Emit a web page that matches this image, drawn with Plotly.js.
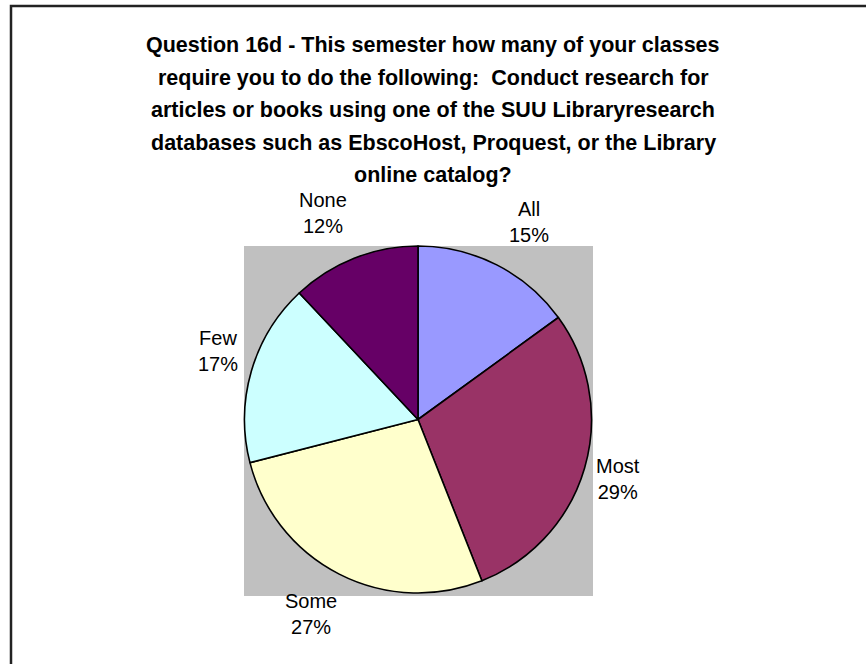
<!DOCTYPE html>
<html>
<head>
<meta charset="utf-8">
<script src="https://cdn.plot.ly/plotly-3.0.1.min.js"></script>
<style>
  html, body { margin: 0; padding: 0; background: #ffffff; }
  #chart { width: 866px; height: 664px; }
</style>
</head>
<body>
<div id="chart"></div>
<script>
// ---- data ----
const categories = ["All", "Most", "Some", "Few", "None"];
const values = [15, 29, 27, 17, 12];
const sliceColors = ["#9999FF", "#993366", "#FFFFCC", "#CCFFFF", "#660066"];
const titleLines = [
  "Question 16d - This semester how many of your classes",
  "require you to do the following:  Conduct research for",
  "articles or books using one of the SUU Libraryresearch",
  "databases such as EbscoHost, Proquest, or the Library",
  "online catalog?"
];

// ---- layout geometry (pixels) ----
const W = 866, H = 664;
const pie = { x0: 244, x1: 592, y0: 246, y1: 593 };
const cx = (pie.x0 + pie.x1) / 2, cy = (pie.y0 + pie.y1) / 2;
const labelDist = [227, 209, 222, 211, 227];
const labelAngleNudge = [2.3, 0.2, 1.9, 2.7, -3.2];

const px = x => x / W;
const py = y => 1 - y / H;

const total = values.reduce((a, b) => a + b, 0);
const annotations = [];
let cum = 0;
values.forEach((v, i) => {
  const mid = (cum + v / 2) / total * 360 + labelAngleNudge[i];
  cum += v;
  const a = mid * Math.PI / 180;
  const lx = cx + labelDist[i] * Math.sin(a);
  const ly = cy - labelDist[i] * Math.cos(a);
  annotations.push({
    xref: "paper", yref: "paper", x: px(lx), y: py(ly),
    xanchor: "center", yanchor: "middle", showarrow: false,
    text: categories[i] + "<br>" + Math.round(v / total * 100) + "%",
    font: { family: "Liberation Sans, Arial, sans-serif", size: 20, color: "#000" }
  });
});
titleLines.forEach((t, i) => {
  annotations.push({
    xref: "paper", yref: "paper", x: 0.5, y: py(45 + 32.5 * i),
    xanchor: "center", yanchor: "middle", showarrow: false,
    text: "<b>" + t + "</b>",
    font: { family: "Liberation Sans, Arial, sans-serif", size: 21.5, color: "#000" }
  });
});

const trace = {
  type: "pie",
  labels: categories,
  values: values,
  sort: false,
  direction: "clockwise",
  rotation: 0,
  textinfo: "none",
  hoverinfo: "label+percent",
  marker: { colors: sliceColors, line: { color: "#000000", width: 1.6 } },
  domain: { x: [px(pie.x0), px(pie.x1)], y: [py(pie.y1), py(pie.y0)] },
  showlegend: false
};

const layout = {
  width: W, height: H,
  margin: { l: 0, r: 0, t: 0, b: 0 },
  paper_bgcolor: "#ffffff",
  showlegend: false,
  annotations: annotations,
  shapes: [
    { type: "rect", xref: "paper", yref: "paper", layer: "below",
      x0: px(244), x1: px(593), y0: py(596), y1: py(246),
      fillcolor: "#C0C0C0", line: { width: 0 } },
    { type: "rect", xref: "paper", yref: "paper", layer: "above",
      x0: px(11), x1: px(W + 10), y0: py(H + 10), y1: py(6),
      fillcolor: "rgba(0,0,0,0)", line: { color: "#222222", width: 2.5 } }
  ]
};

Plotly.newPlot("chart", [trace], layout, { displayModeBar: false, staticPlot: true });
</script>
</body>
</html>
